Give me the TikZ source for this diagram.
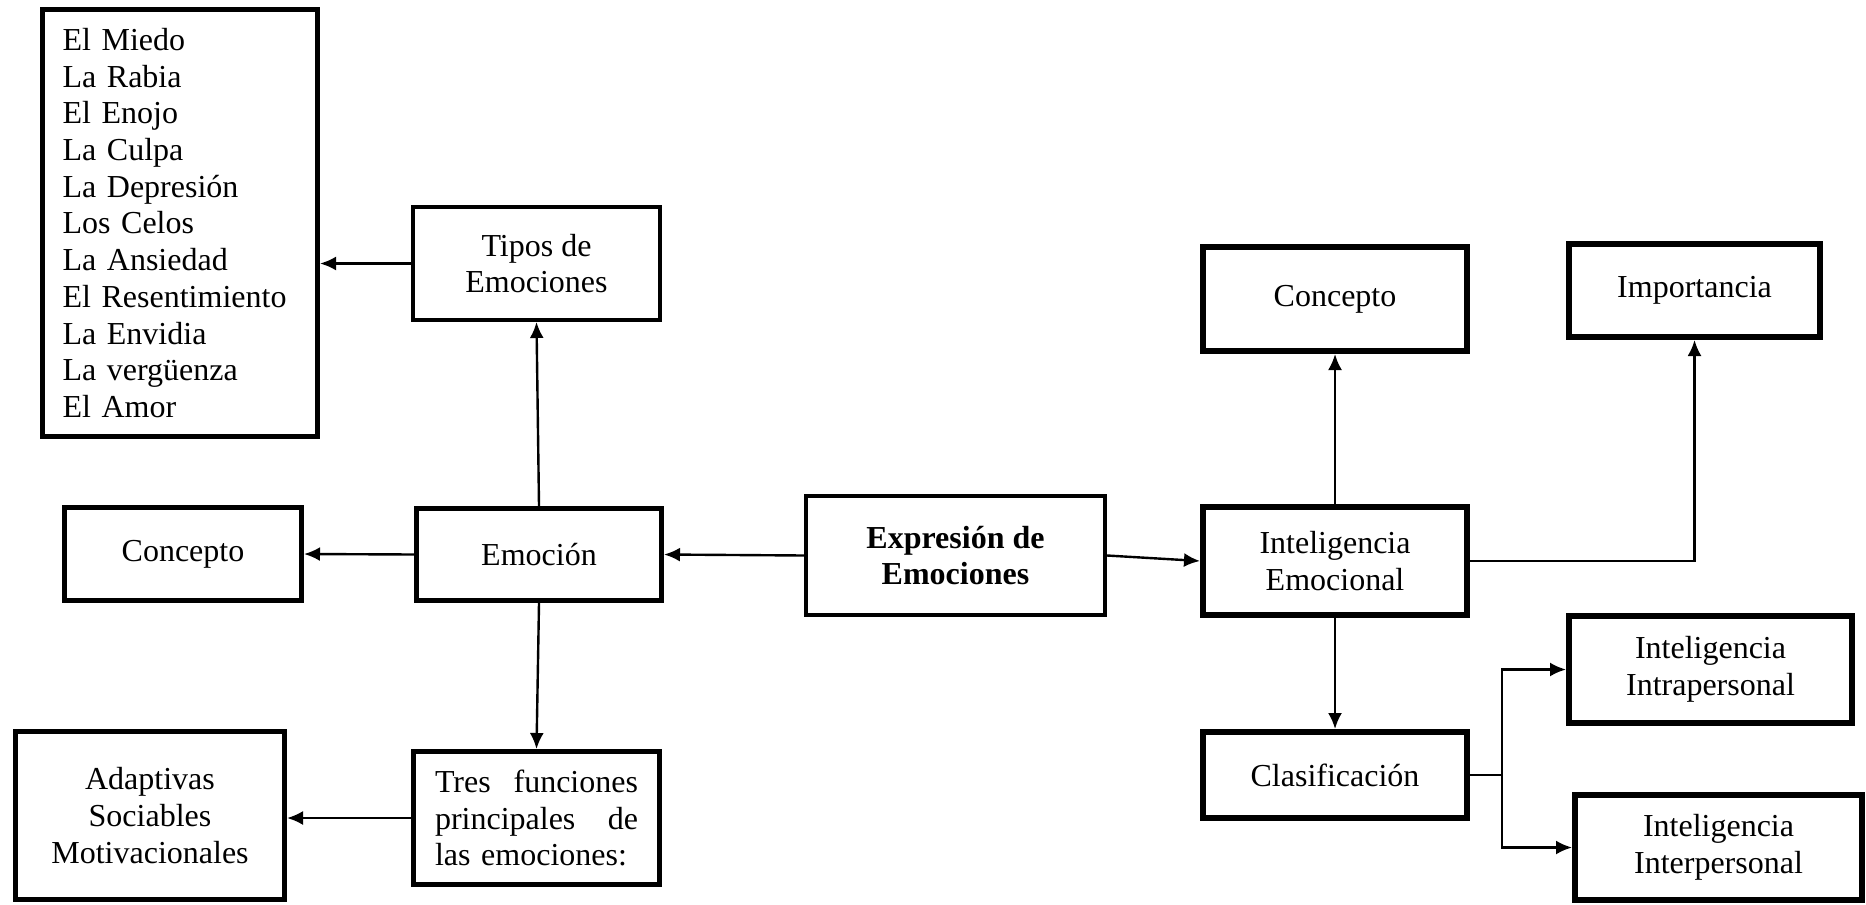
\documentclass[tikz,border=0pt]{standalone}
\usepackage{fontspec}
\setmainfont{Liberation Serif}
\usepackage{tikz}
\usetikzlibrary{arrows.meta}

\begin{document}
\begin{tikzpicture}[->,>={Latex[length=8pt,width=7pt]},x=0.5pt,y=-0.5pt,
                    line width=1.2pt]
  \tikzstyle{box}=[draw=black,text=black,line width=2.5pt,align=center,
                   inner sep=0pt,font=\fontsize{16}{18.35}\selectfont]
  \tikzstyle{thickbox}=[box,line width=3pt]

  \useasboundingbox (0,0) rectangle (1866,904);

  % centro
  \node[box,line width=2pt,minimum width=149.5pt,minimum height=59.5pt]
       (expr) at (955.5,555.5) {\textbf{Expresión de}\\\textbf{Emociones}};

  % lado izquierdo
  \node[box,minimum width=122.5pt,minimum height=46pt]
       (emocion) at (539,554.5) {Emoción};
  \node[box,minimum width=118.5pt,minimum height=46.5pt]
       (concL) at (183,554) {Concepto};
  \node[box,line width=2pt,minimum width=123.5pt,minimum height=56.5pt]
       (tipos) at (536.5,263.5) {Tipos de\\Emociones};
  \node[box,align=left,text width=117.5pt,inner xsep=10pt,minimum height=213.5pt]
       (lista) at (180,223) {El Miedo\\La Rabia\\El Enojo\\La Culpa\\La Depresión\\
       Los Celos\\La Ansiedad\\El Resentimiento\\La Envidia\\La vergüenza\\El Amor};
  \node[box,align=left,text width=101.5pt,inner xsep=10.75pt,minimum height=66.5pt]
       (tres) at (536.5,818) {Tres\hfill funciones\\principales\hfill de\\las emociones:};
  \node[box,minimum width=134.5pt,minimum height=84pt]
       (adapt) at (150,815.5) {Adaptivas\\Sociables\\Motivacionales};

  % lado derecho
  \node[thickbox,minimum width=132pt,minimum height=54pt]
       (ie) at (1335,561) {Inteligencia\\Emocional};
  \node[thickbox,minimum width=132pt,minimum height=52pt]
       (concR) at (1335,299) {Concepto};
  \node[thickbox,minimum width=125.5pt,minimum height=46.5pt]
       (imp) at (1694.5,290.5) {Importancia};
  \node[thickbox,minimum width=132pt,minimum height=43pt]
       (clasif) at (1335,775) {Clasificación};
  \node[thickbox,minimum width=141.5pt,minimum height=53.5pt]
       (intra) at (1710.5,669.5) {Inteligencia\\Intrapersonal};
  \node[thickbox,minimum width=143.5pt,minimum height=52.5pt]
       (inter) at (1718.5,847.5) {Inteligencia\\Interpersonal};

  \coordinate (fork) at (1502,775);

  \path (expr.west) edge (emocion.east)
        (expr.east) edge (ie.west)
        (emocion.west)  edge (concL.east)
        (emocion.north) edge (tipos.south)
        (emocion.south) edge (tres.north)
        (tipos.west) edge (tipos.west -| lista.east)
        (tres.west)  edge (tres.west -| adapt.east)
        (ie.north) edge (concR.south)
        (ie.south) edge (clasif.north);
  \draw (ie.east) -| (imp.south);
  \draw[-] (clasif.east) -- (fork);
  \draw (fork) |- (intra.west);
  \draw (fork) |- (inter.west);
\end{tikzpicture}
\end{document}
